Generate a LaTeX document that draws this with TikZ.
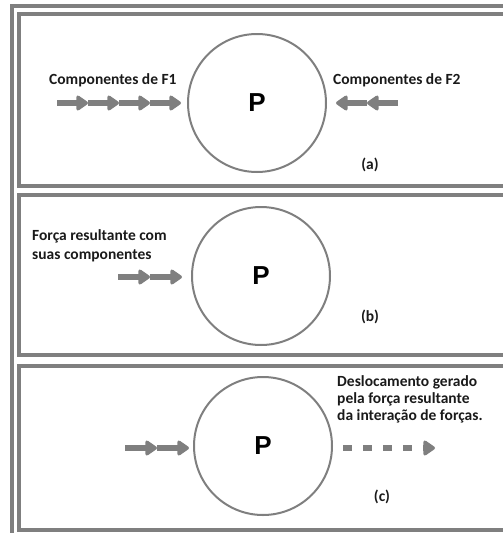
\documentclass[tikz,border=0pt]{standalone}
\usepackage{fontspec}
\setmainfont{Carlito}
\newfontfamily\arialfont{Liberation Sans}
\usetikzlibrary{arrows.meta}
\definecolor{framegray}{HTML}{7F7F7F}
\definecolor{textdark}{HTML}{1A1A1A}
\tikzset{
	panelframe/.style={draw=framegray, line width=4pt},
	particle/.style={circle, draw=framegray, line width=2pt, minimum size=138pt, inner sep=0pt,
		font=\arialfont\bfseries\fontsize{26}{26}\selectfont},
	forcearrow/.style={draw=framegray, line width=5.5pt, -{Triangle[length=13pt,width=17pt,round]}},
	labeltext/.style={inner sep=0pt, text=textdark, font=\bfseries\fontsize{15.5}{19}\selectfont},
}
\begin{document}
\begin{tikzpicture}[x=1pt, y=-1pt]
	\clip (0,0) rectangle (503,533);
	\draw[panelframe] (12,545) -- (12,6) -- (515,6);
	\draw[panelframe] (19,14) rectangle (515,186);
	\draw[panelframe] (19,195) rectangle (515,355);
	\draw[panelframe] (19,366) rectangle (515,530);

	% (a)
	\node[particle] (pa) at (257,103) {P};
	\node[labeltext, anchor=base west] (f1lab) at (49,84) {Componentes de F1};
	\node[labeltext, anchor=base west] (f2lab) at (333,84) {Componentes de F2};
	\node[labeltext] (tag-a) at (370,165) {(a)};
	\foreach \i in {0,...,4} \coordinate (f1-\i) at (57+\i*31,103);
	\foreach \i [count=\j] in {0,...,3} \draw[forcearrow] (f1-\i) -- (f1-\j);
	\foreach \i in {0,...,2} \coordinate (f2-\i) at (398-\i*31,103);
	\foreach \i [count=\j] in {0,1} \draw[forcearrow] (f2-\i) -- (f2-\j);

	% (b)
	\node[particle] (pb) at (261,276) {P};
	\node[labeltext, anchor=north west, align=left] (reslab) at (32,229) {Força resultante com\\suas componentes};
	\node[labeltext] (tag-b) at (370,317) {(b)};
	\foreach \i in {0,...,2} \coordinate (fb-\i) at (118+\i*32,277);
	\foreach \i [count=\j] in {0,1} \draw[forcearrow] (fb-\i) -- (fb-\j);

	% (c)
	\node[particle] (pc) at (263,446) {P};
	\node[labeltext, anchor=north west, align=left, font=\bfseries\fontsize{15.5}{17}\selectfont] (deslab) at (337,375)
		{Deslocamento gerado\\pela força resultante\\da interação de forças.};
	\node[labeltext] (tag-c) at (382,497) {(c)};
	\foreach \i in {0,...,2} \coordinate (fc-\i) at (125+\i*32,448);
	\foreach \i [count=\j] in {0,1} \draw[forcearrow] (fc-\i) -- (fc-\j);
	\coordinate (move-0) at (343,448);
	\coordinate (move-1) at (435,448);
	\draw[forcearrow, dash pattern=on 9pt off 11pt] (move-0) -- (move-1);
\end{tikzpicture}
\end{document}
